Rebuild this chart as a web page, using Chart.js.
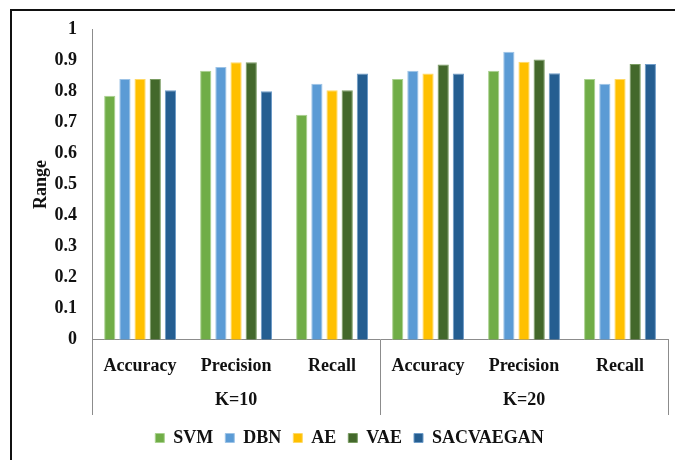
<!DOCTYPE html>
<html>
<head>
<meta charset="utf-8">
<script src="https://cdn.jsdelivr.net/npm/chart.js@4/dist/chart.umd.min.js"></script>
<style>
  html, body { margin: 0; padding: 0; background: #fff; }
  #wrap { position: relative; width: 675px; height: 460px; }
  #frame { position: absolute; left: 10px; top: 9px; right: 0; bottom: 0;
           border-left: 2px solid #111; border-top: 2px solid #111; pointer-events: none; }
  canvas { position: absolute; left: 0; top: 0; }
</style>
</head>
<body>
<div id="wrap">
  <canvas id="c" width="675" height="460"></canvas>
  <div id="frame"></div>
</div>
<script>
// Metric names under each bar group, and the K setting each half belongs to
const metrics = ['Accuracy', 'Precision', 'Recall', 'Accuracy', 'Precision', 'Recall'];
const kGroups = ['K=10', 'K=20'];
const yTicks = [0, 0.1, 0.2, 0.3, 0.4, 0.5, 0.6, 0.7, 0.8, 0.9, 1];

// Scores per model: K=10 (Accuracy, Precision, Recall), then K=20 (same order)
const svm       = [0.785, 0.866, 0.724, 0.839, 0.866, 0.839];
const dbn       = [0.839, 0.878, 0.824, 0.866, 0.927, 0.824];
const ae        = [0.839, 0.893, 0.803, 0.857, 0.895, 0.839];
const vae       = [0.839, 0.893, 0.803, 0.886, 0.902, 0.887];
const sacvaegan = [0.803, 0.800, 0.857, 0.857, 0.858, 0.887];

const FONT = 'Liberation Serif';
const TEXT = '#111';
const noGrid = { display: false, drawTicks: false, tickLength: 0 };

function series(label, data, fill, edge) {
  return {
    label, data,
    backgroundColor: fill,
    borderColor: edge,
    borderWidth: 1,
    borderSkipped: 'bottom',
    categoryPercentage: 0.79,
    barPercentage: 0.74
  };
}

// Vertical separators below the axis: left end, between K groups, right end
const groupDividers = {
  id: 'groupDividers',
  afterDraw(chart) {
    const x = chart.scales.x, x2 = chart.scales.x2;
    const ctx = chart.ctx;
    const top = chart.chartArea.bottom;
    const bottom = x2.bottom - 2;
    const half = metrics.length / 2;
    const xs = [x.left, x.getPixelForValue(half - 0.5), x.right];
    ctx.save();
    ctx.strokeStyle = '#8c8c8c';
    ctx.lineWidth = 1;
    xs.forEach(px => {
      const p = Math.round(px) + 0.5;
      ctx.beginPath();
      ctx.moveTo(p, top);
      ctx.lineTo(p, bottom);
      ctx.stroke();
    });
    ctx.restore();
  }
};

new Chart(document.getElementById('c'), {
  type: 'bar',
  data: {
    labels: metrics,
    datasets: [
      series('SVM', svm, '#70AD47', '#a9d18e'),
      series('DBN', dbn, '#5B9BD5', '#9dc3e6'),
      series('AE', ae, '#FFC000', '#ffd966'),
      series('VAE', vae, '#43682B', '#7a9c62'),
      series('SACVAEGAN', sacvaegan, '#255E91', '#6f9cc8')
    ]
  },
  options: {
    responsive: false,
    animation: false,
    devicePixelRatio: 1,
    layout: { padding: { top: 29, right: 7, left: 31, bottom: 3 } },
    scales: {
      x: {
        grid: noGrid,
        border: { display: true, color: '#8c8c8c', width: 1 },
        ticks: { color: TEXT, font: { family: FONT, size: 18, weight: 'bold' }, padding: 16, maxRotation: 0 },
        // keep the K row close under the metric names
        afterFit(scale) { scale.height -= 10; }
      },
      x2: {
        type: 'category',
        labels: kGroups,
        position: 'bottom',
        offset: true,
        grid: noGrid,
        border: { display: false },
        ticks: { color: TEXT, font: { family: FONT, size: 18, weight: 'bold' }, padding: 6, maxRotation: 0 }
      },
      y: {
        min: 0,
        max: 1,
        afterBuildTicks(scale) { scale.ticks = yTicks.map(v => ({ value: v })); },
        grid: noGrid,
        border: { display: true, color: '#8c8c8c', width: 1 },
        ticks: {
          color: TEXT,
          font: { family: FONT, size: 18, weight: 'bold' },
          padding: 15,
          callback: v => String(Math.round(v * 10) / 10)
        },
        title: {
          display: true,
          text: 'Range',
          color: TEXT,
          font: { family: FONT, size: 18, weight: 'bold' },
          padding: { top: 0, bottom: 2 }
        },
        // pull the axis title in next to the tick labels
        afterFit(scale) { scale.width -= 15; }
      }
    },
    plugins: {
      legend: {
        position: 'bottom',
        labels: {
          color: TEXT,
          font: { family: FONT, size: 18, weight: 'bold' },
          usePointStyle: true,
          pointStyle: 'rect',
          boxWidth: 9,
          boxHeight: 9,
          padding: 12
        }
      },
      tooltip: { enabled: false }
    }
  },
  plugins: [groupDividers]
});
</script>
</body>
</html>
